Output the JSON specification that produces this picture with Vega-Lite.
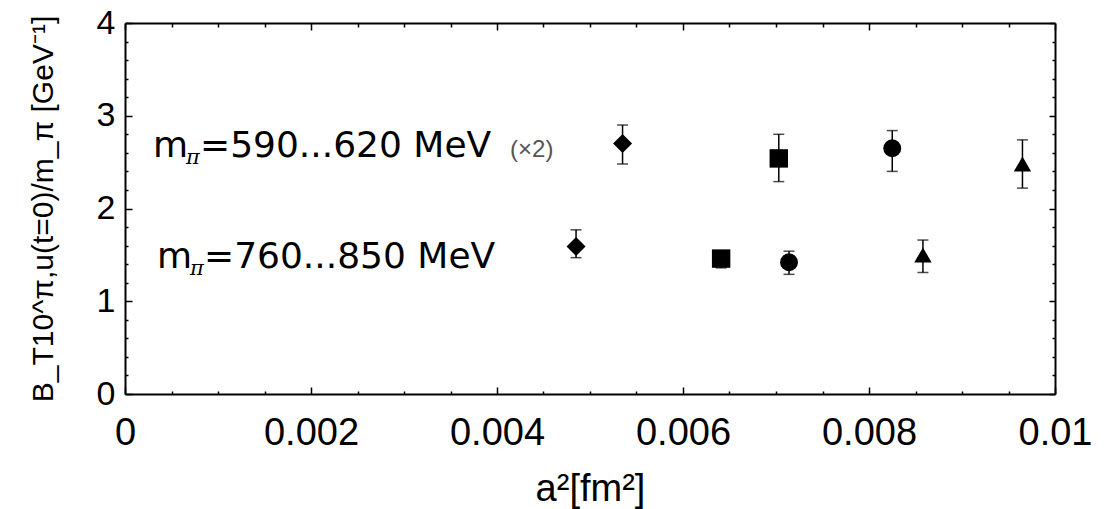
{
  "$schema": "https://vega.github.io/schema/vega-lite/v6.json",
  "width": 930,
  "height": 371,
  "autosize": "none",
  "padding": {"left": 125, "top": 23, "right": 54, "bottom": 115},
  "background": "white",
  "config": {
    "view": {"stroke": null},
    "font": "Liberation Sans",
    "axis": {
      "domainColor": "black",
      "domainWidth": 2,
      "tickColor": "black",
      "tickWidth": 1.5,
      "grid": false,
      "labelColor": "black",
      "titleColor": "black",
      "labelOverlap": false,
      "labelFlush": false,
      "labelFont": "Liberation Sans",
      "titleFont": "Liberation Sans",
      "titleFontWeight": "normal"
    }
  },
  "datasets": {
    "pts": [
      {"a2": 0.00535, "val": 2.70, "lo": 2.48, "hi": 2.90, "shape": "diamond", "group": "590...620 MeV (x2)"},
      {"a2": 0.00703, "val": 2.54, "lo": 2.29, "hi": 2.80, "shape": "square", "group": "590...620 MeV (x2)"},
      {"a2": 0.00825, "val": 2.65, "lo": 2.40, "hi": 2.84, "shape": "circle", "group": "590...620 MeV (x2)"},
      {"a2": 0.00965, "val": 2.48, "lo": 2.22, "hi": 2.74, "shape": "triangle-up", "group": "590...620 MeV (x2)"},
      {"a2": 0.00485, "val": 1.59, "lo": 1.47, "hi": 1.77, "shape": "diamond", "group": "760...850 MeV"},
      {"a2": 0.00641, "val": 1.46, "lo": 1.36, "hi": 1.52, "shape": "square", "group": "760...850 MeV"},
      {"a2": 0.00714, "val": 1.42, "lo": 1.29, "hi": 1.54, "shape": "circle", "group": "760...850 MeV"},
      {"a2": 0.00858, "val": 1.50, "lo": 1.31, "hi": 1.66, "shape": "triangle-up", "group": "760...850 MeV"}
    ],
    "labels": [
      {"a2": 0.000301, "val": 2.555, "rest": "=590...620 MeV"},
      {"a2": 0.000344, "val": 1.358, "rest": "=760...850 MeV"}
    ],
    "notes": [
      {"a2": 0.00414, "val": 2.555, "t": "(×2)"}
    ]
  },
  "layer": [
    {
      "data": {"name": "pts"},
      "mark": {"type": "errorbar", "color": "black", "thickness": 1.5, "ticks": {"size": 11, "thickness": 1.5, "color": "black"}},
      "encoding": {
        "x": {
          "field": "a2", "type": "quantitative",
          "scale": {"domain": [0, 0.01], "nice": false, "zero": false},
          "axis": {
            "orient": "bottom",
            "title": "a²[fm²]",
            "titleFontSize": 38,
            "titlePadding": 14,
            "values": [0, 0.0005, 0.001, 0.0015, 0.002, 0.0025, 0.003, 0.0035, 0.004, 0.0045, 0.005, 0.0055, 0.006, 0.0065, 0.007, 0.0075, 0.008, 0.0085, 0.009, 0.0095, 0.01],
            "labelExpr": "round(datum.value*10000) % 20 == 0 ? format(datum.value, '.3~f') : ''",
            "labelFontSize": 38,
            "labelPadding": 27,
            "tickSize": {"condition": {"test": "round(datum.value*10000) % 20 == 0", "value": -7}, "value": -3}
          }
        },
        "y": {
          "field": "lo", "type": "quantitative",
          "scale": {"domain": [0, 4], "nice": false},
          "axis": {
            "orient": "left",
            "title": "B_T10^π,u(t=0)/m_π [GeV⁻¹]",
            "titleFontSize": 30,
            "titlePadding": 38,
            "values": [0, 0.2, 0.4, 0.6, 0.8, 1, 1.2, 1.4, 1.6, 1.8, 2, 2.2, 2.4, 2.6, 2.8, 3, 3.2, 3.4, 3.6, 3.8, 4],
            "labelExpr": "round(datum.value*10) % 10 == 0 ? format(datum.value, 'd') : ''",
            "labelFontSize": 34,
            "labelPadding": 17,
            "tickSize": {"condition": {"test": "round(datum.value*10) % 10 == 0", "value": -7}, "value": -3}
          }
        },
        "y2": {"field": "hi"}
      }
    },
    {
      "data": {"name": "pts"},
      "mark": {"type": "point", "filled": true, "color": "black", "opacity": 1},
      "encoding": {
        "x": {
          "field": "a2", "type": "quantitative",
          "scale": {"domain": [0, 0.01], "nice": false, "zero": false},
          "axis": {
            "orient": "top",
            "title": null,
            "labels": false,
            "values": [0, 0.0005, 0.001, 0.0015, 0.002, 0.0025, 0.003, 0.0035, 0.004, 0.0045, 0.005, 0.0055, 0.006, 0.0065, 0.007, 0.0075, 0.008, 0.0085, 0.009, 0.0095, 0.01],
            "tickSize": {"condition": {"test": "round(datum.value*10000) % 20 == 0", "value": -7}, "value": -4}
          }
        },
        "y": {
          "field": "val", "type": "quantitative",
          "scale": {"domain": [0, 4], "nice": false},
          "axis": {
            "orient": "right",
            "title": null,
            "labels": false,
            "values": [0, 0.2, 0.4, 0.6, 0.8, 1, 1.2, 1.4, 1.6, 1.8, 2, 2.2, 2.4, 2.6, 2.8, 3, 3.2, 3.4, 3.6, 3.8, 4],
            "tickSize": {"condition": {"test": "round(datum.value*10) % 10 == 0", "value": -6}, "value": -3}
          }
        },
        "shape": {
          "field": "shape", "type": "nominal",
          "scale": {"domain": ["diamond", "square", "circle", "triangle-up"], "range": ["diamond", "square", "circle", "triangle-up"]},
          "legend": null
        },
        "size": {
          "field": "shape", "type": "ordinal",
          "scale": {"domain": ["diamond", "square", "circle", "triangle-up"], "range": [360, 300, 361, 500]},
          "legend": null
        }
      }
    },
    {
      "data": {"name": "labels"},
      "mark": {"type": "text", "text": "m", "align": "left", "baseline": "alphabetic", "font": "DejaVu Sans", "fontSize": 36, "color": "black"},
      "encoding": {
        "x": {"field": "a2", "type": "quantitative", "axis": null},
        "y": {"field": "val", "type": "quantitative", "axis": null}
      }
    },
    {
      "data": {"name": "labels"},
      "mark": {"type": "text", "text": "π", "align": "left", "baseline": "alphabetic", "font": "DejaVu Serif", "fontStyle": "italic", "fontSize": 21, "dx": 33, "dy": 7, "color": "black"},
      "encoding": {
        "x": {"field": "a2", "type": "quantitative", "axis": null},
        "y": {"field": "val", "type": "quantitative", "axis": null}
      }
    },
    {
      "data": {"name": "labels"},
      "mark": {"type": "text", "align": "left", "baseline": "alphabetic", "font": "DejaVu Sans", "fontSize": 36, "dx": 47, "color": "black"},
      "encoding": {
        "x": {"field": "a2", "type": "quantitative", "axis": null},
        "y": {"field": "val", "type": "quantitative", "axis": null},
        "text": {"field": "rest"}
      }
    },
    {
      "data": {"name": "notes"},
      "mark": {"type": "text", "align": "left", "baseline": "alphabetic", "font": "Liberation Sans", "fontSize": 24, "color": "#555555"},
      "encoding": {
        "x": {"field": "a2", "type": "quantitative", "axis": null},
        "y": {"field": "val", "type": "quantitative", "axis": null},
        "text": {"field": "t"}
      }
    }
  ],
  "resolve": {"axis": {"x": "independent", "y": "independent"}}
}
